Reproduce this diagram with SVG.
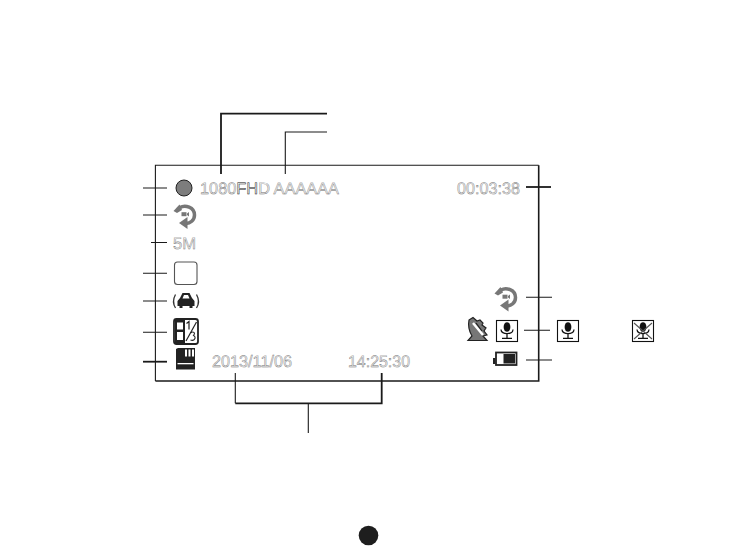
<svg xmlns="http://www.w3.org/2000/svg" width="737" height="556" viewBox="0 0 737 556">
<defs>
<style>
.ln{stroke:#1a1a1a;fill:none;stroke-width:1.1}
.th{stroke:#1a1a1a;fill:none;stroke-width:1.8}
.t{font-family:"Liberation Sans",Arial,sans-serif;font-size:16.5px;fill:#f0f0f0;stroke:#707070;stroke-width:.4;text-rendering:geometricPrecision}
</style>
<g id="rotIcon">
<path d="M-5,-7.500 C0,-10.500 9.500,-8 9.500,0 C9.500,5.500 5,8.500 1,8.500" fill="none" stroke="#777" stroke-width="3.500"/>
<path d="M-11.500,-4 L-5.500,-10.500 L-3,-5 L-8,-2 Z" fill="#777"/>
<path d="M-6,8 L2.500,2 V14 Z" fill="#777"/>
<rect x="-3.500" y="-2.800" width="5" height="4" fill="#777"/>
<path d="M2,-1.500 L4,-3 V1.500 L2,0 Z" fill="#777"/>
</g>
<g id="micIcon">
<rect x="-10.500" y="-10.500" width="21" height="21" fill="#fff" stroke="#111" stroke-width="1.100"/>
<ellipse cx="0" cy="-4" rx="3.400" ry="4.800" fill="#111"/>
<path d="M-6,-1.500 C-6,4 6,4 6,-1.500 M0,2.500 V7 M-5,7.300 H5" fill="none" stroke="#111" stroke-width="1.300"/>
</g>
</defs>
<g id="connectors">
<path class="th" d="M221,174 V113.700 H327"/>
<path class="ln" d="M285.300,174 V132 H327"/>
<path class="ln" d="M143,188 H167 M143,215 H167 M151,242.500 H167 M143,273.300 H167 M143,301 H167 M143,332.300 H167"/>
<path class="th" d="M143,361.700 H167"/>
<path class="th" d="M526,187 H551"/>
<path class="ln" d="M526,297.300 H552 M524,330.300 H550 M526,360 H552"/>
<path class="ln" d="M235.300,373 V403.300"/>
<path class="th" d="M235.300,403.300 H381.700 V373"/>
<path class="ln" d="M308.300,403 V433"/>
</g>
<g id="screen">
<path d="M155.400,381 V165.300 H538.700" fill="none" stroke="#1a1a1a" stroke-width="1.100"/>
<path d="M538.700,165.300 V381 H155.400" fill="none" stroke="#1a1a1a" stroke-width="1.600"/>
</g>
<g id="record"><circle cx="184" cy="188" r="8" fill="#7d7d7d" stroke="#222" stroke-width="1"/></g>
<g id="resolution"><text class="t" x="200" y="194" textLength="139" lengthAdjust="spacingAndGlyphs">1080<tspan style="fill:#fff;stroke:#111;stroke-width:.5">FH</tspan>D AAAAAA</text></g>
<g id="timer"><text class="t" x="457" y="194" textLength="63" lengthAdjust="spacingAndGlyphs">00:03:38</text></g>
<g id="loop-left"><use href="#rotIcon" x="185" y="215"/></g>
<g id="megapixel"><text class="t" x="173" y="249" textLength="23" lengthAdjust="spacingAndGlyphs">5M</text></g>
<g id="blank"><rect x="174.500" y="262" width="22.500" height="22.500" rx="3" fill="#fff" stroke="#555" stroke-width="1.100"/></g>
<g id="car">
<path d="M180,298 L182.500,293 H189.500 L192,298 L194.500,301 V306 H192.500 V308 H189.500 V306 H182.500 V308 H179.500 V306 H177.500 V301 Z" fill="#222"/>
<path d="M182.500,298.500 L184,295 H188 L189.500,298.500 Z" fill="#fff"/>
<path d="M175.500,294.500 C173,299 173,304 175.500,308 M196.500,294.500 C199,299 199,304 196.500,308" fill="none" stroke="#333" stroke-width="1.300"/>
</g>
<g id="ratio">
<rect x="174" y="319" width="24" height="25" rx="2.500" fill="#fff" stroke="#222" stroke-width="1.800"/>
<rect x="175" y="320" width="10" height="23" fill="#222"/>
<rect x="177" y="322.500" width="6" height="7" fill="#fff"/>
<rect x="177" y="332" width="6" height="8" fill="#fff"/>
<path d="M186,341 L196.500,322" stroke="#222" stroke-width="1.200"/>
<path d="M186.500,323.500 L189,321.500 V329.500" fill="none" stroke="#222" stroke-width="1.200"/>
<path d="M190.500,333 C193,331 196,332.500 193.500,335.500 C196.500,336.500 195,341.500 190.500,340" fill="none" stroke="#222" stroke-width="1.100"/>
</g>
<g id="sd">
<path d="M176,349 V369.500 H195 V348 H178 Z" fill="#222"/>
<path d="M185,349.500 H187 V356.500 H185 Z M188.500,349.500 H190.500 V356.500 H188.500 Z M192,349.500 H194 V356.500 H192 Z" fill="#fff"/>
<rect x="177.500" y="363" width="16" height="1.300" fill="#fff"/>
</g>
<g id="date"><text class="t" x="212" y="367" textLength="80" lengthAdjust="spacingAndGlyphs">2013/11/06</text></g>
<g id="time"><text class="t" x="348" y="367" textLength="62" lengthAdjust="spacingAndGlyphs">14:25:30</text></g>
<g id="loop-right"><use href="#rotIcon" x="506" y="297.500"/></g>
<g id="gsensor">
<path d="M469,320 L473,317.500 L477,321 L480,320 L483,323 L482,325 L486,328 L484,331 L487,335 L483,336 L487,340.500 H468 L472,336 C469,331 468,325 469,320 Z" fill="#777" stroke="#222" stroke-width="1.200"/>
<path d="M473,323 L483,335" stroke="#fff" stroke-width="2.500"/>
<path d="M476,323 L482,331" stroke="#222" stroke-width="1.200"/>
</g>
<g id="mic-on"><use href="#micIcon" x="507" y="331"/></g>
<g id="mic-legend-on"><use href="#micIcon" x="568" y="331"/></g>
<g id="mic-legend-off"><use href="#micIcon" x="643" y="331"/><path d="M634,323 L652,339 M652,323 L634,339" stroke="#555" stroke-width="1.100"/></g>
<g id="battery">
<rect x="493" y="358" width="2.500" height="6" fill="#222"/>
<rect x="496" y="352.500" width="20.500" height="12.500" fill="#fff" stroke="#222" stroke-width="1.800"/>
<rect x="503.500" y="354" width="11.500" height="9.500" fill="#222"/>
</g>
<g id="page"><circle cx="368.500" cy="535.500" r="9.800" fill="#1e1e1e"/></g>
</svg>
